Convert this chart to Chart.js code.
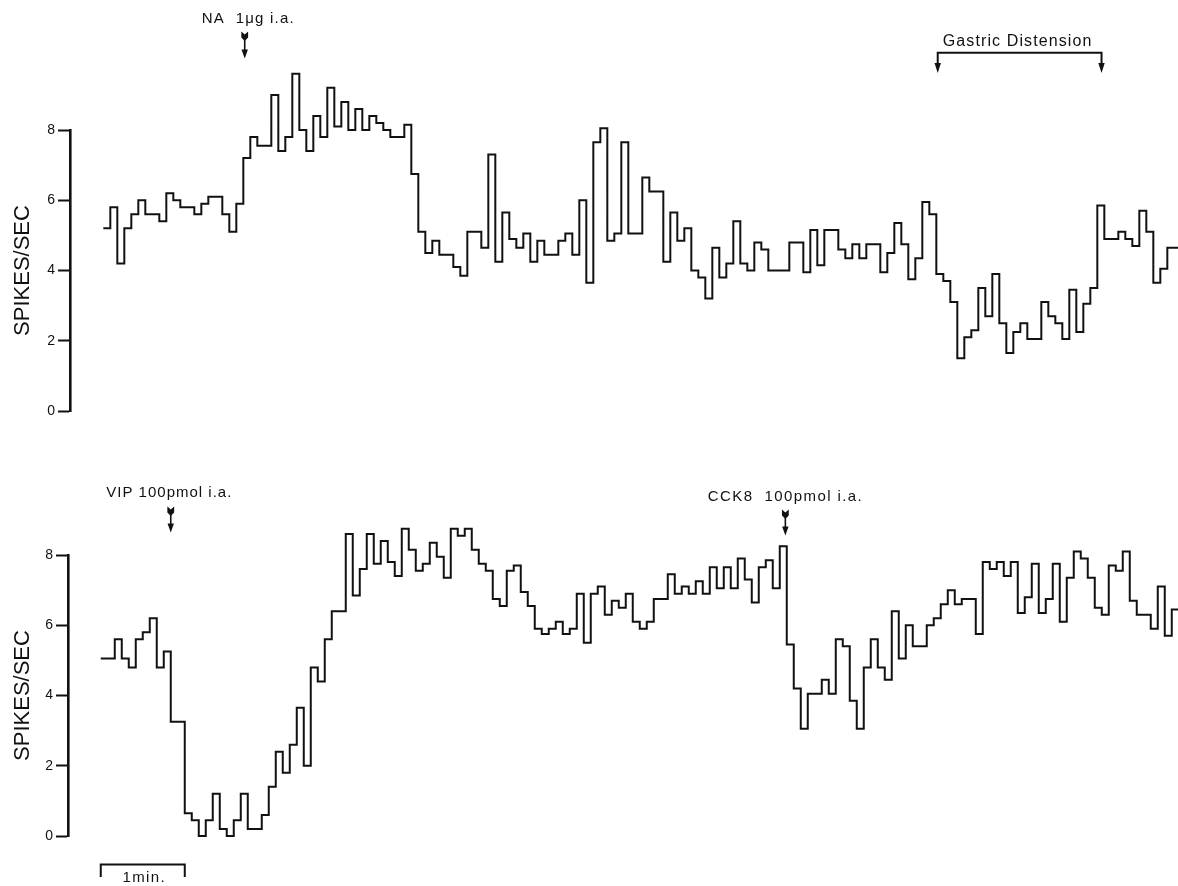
<!DOCTYPE html>
<html>
<head>
<meta charset="utf-8">
<title>Firing rate traces</title>
<script src="https://cdn.jsdelivr.net/npm/chart.js@4.4.1/dist/chart.umd.min.js"></script>
<style>
  html, body { margin: 0; padding: 0; background: #fff; }
  #wrap { position: relative; width: 1178px; height: 886px; overflow: hidden; }
  canvas { position: absolute; left: 0; }
  #topChart { top: 0; }
  #bottomChart { top: 450px; }
</style>
</head>
<body>
<div id="wrap">
  <canvas id="topChart" width="1178" height="450"></canvas>
  <canvas id="bottomChart" width="1178" height="436"></canvas>
</div>
<script>
// Firing rate (spikes/sec) counted in consecutive 5-second bins.
const BIN_SEC = 5;

// Upper trace: NA injection, then gastric distension.
const topRates = [
  5.2, 5.8, 4.2, 5.2, 5.6, 6.0, 5.6, 5.6, 5.4, 6.2,
  6.0, 5.8, 5.8, 5.6, 5.9, 6.1, 6.1, 5.6, 5.1, 5.9,
  7.2, 7.8, 7.55, 7.55, 9.0, 7.4, 7.8, 9.6, 8.0, 7.4,
  8.4, 7.8, 9.2, 8.1, 8.8, 8.0, 8.6, 8.0, 8.4, 8.2,
  8.0, 7.8, 7.8, 8.15, 6.75, 5.1, 4.5, 4.85, 4.45, 4.45,
  4.1, 3.85, 5.1, 5.1, 4.65, 7.3, 4.25, 5.65, 4.9, 4.65,
  5.05, 4.25, 4.85, 4.45, 4.45, 4.85, 5.05, 4.45, 6.0, 3.65,
  7.65, 8.05, 4.85, 5.05, 7.65, 5.05, 5.05, 6.65, 6.25, 6.25,
  4.25, 5.65, 4.85, 5.2, 4.0, 3.8, 3.2, 4.65, 3.8, 4.2,
  5.4, 4.2, 4.0, 4.8, 4.6, 4.0, 4.0, 4.0, 4.8, 4.8,
  3.95, 5.15, 4.15, 5.15, 5.15, 4.6, 4.35, 4.75, 4.35, 4.75,
  4.75, 3.95, 4.5, 5.35, 4.75, 3.75, 4.35, 5.95, 5.6, 3.9,
  3.7, 3.1, 1.5, 2.1, 2.3, 3.5, 2.7, 3.9, 2.5, 1.65,
  2.25, 2.5, 2.05, 2.05, 3.1, 2.7, 2.5, 2.05, 3.45, 2.25,
  3.05, 3.5, 5.85, 4.9, 4.9, 5.1, 4.9, 4.7, 5.7, 5.1,
  3.65, 4.05, 4.65, 4.65
];

// Lower trace: VIP injection, then CCK8 injection.
const bottomRates = [
  5.05, 5.05, 5.6, 5.05, 4.8, 5.6, 5.8, 6.2, 4.8, 5.25,
  3.25, 3.25, 0.65, 0.45, 0.0, 0.45, 1.2, 0.2, 0.0, 0.45,
  1.2, 0.2, 0.2, 0.6, 1.4, 2.4, 1.8, 2.6, 3.65, 2.0,
  4.8, 4.4, 5.6, 6.4, 6.4, 8.6, 6.85, 7.6, 8.6, 7.75,
  8.4, 7.8, 7.4, 8.75, 8.15, 7.55, 7.75, 8.35, 7.95, 7.35,
  8.75, 8.55, 8.75, 8.15, 7.75, 7.55, 6.75, 6.55, 7.55, 7.7,
  6.95, 6.55, 5.9, 5.75, 5.9, 6.1, 5.75, 5.9, 6.9, 5.5,
  6.9, 7.1, 6.3, 6.7, 6.5, 6.9, 6.1, 5.9, 6.1, 6.75,
  6.75, 7.45, 6.9, 7.1, 6.9, 7.25, 6.9, 7.65, 7.05, 7.65,
  7.05, 7.9, 7.3, 6.65, 7.65, 7.85, 7.05, 8.25, 5.45, 4.2,
  3.05, 4.05, 4.05, 4.45, 4.05, 5.6, 5.4, 3.85, 3.05, 4.8,
  5.6, 4.8, 4.45, 6.4, 5.05, 6.0, 5.4, 5.4, 6.0, 6.2,
  6.6, 7.0, 6.6, 6.75, 6.75, 5.75, 7.8, 7.6, 7.8, 7.4,
  7.8, 6.35, 6.8, 7.75, 6.35, 6.75, 7.75, 6.1, 7.35, 8.1,
  7.9, 7.35, 6.5, 6.3, 7.7, 7.55, 8.1, 6.7, 6.3, 6.3,
  5.9, 7.1, 5.7, 6.45
];

const yTickValues = [0, 2, 4, 6, 8];
const yTitle = 'SPIKES/SEC';

// Event times in seconds from the start of each trace.
const naText = 'NA  1μg i.a.';
const naTime = 101;
const vipText = 'VIP 100pmol i.a.';
const vipTime = 50;
const cckText = 'CCK8  100pmol i.a.';
const cckTime = 489;
const distensionText = 'Gastric Distension';
const distensionTimes = [596, 713];
const scaleBarText = '1min.';
const scaleBarSeconds = [0, 60];

const FONT = '"Liberation Sans", Arial, Helvetica, sans-serif';
const INK = '#111';

// One point per bin start, plus a closing point at the end of the last bin.
function stepPoints(values) {
  const pts = values.map((v, i) => ({ x: i * BIN_SEC, y: v }));
  pts.push({ x: values.length * BIN_SEC, y: values[values.length - 1] });
  return pts;
}

// Injection marker: fletched tail on top, filled head at the bottom.
function featherArrow(ctx, x, yTop, yTip) {
  ctx.fillStyle = INK;
  ctx.strokeStyle = INK;
  ctx.beginPath();
  ctx.moveTo(x - 3.4, yTop);
  ctx.lineTo(x, yTop + 3);
  ctx.lineTo(x + 3.4, yTop);
  ctx.lineTo(x + 3.4, yTop + 6);
  ctx.lineTo(x, yTop + 9.5);
  ctx.lineTo(x - 3.4, yTop + 6);
  ctx.closePath();
  ctx.fill();
  ctx.lineWidth = 1.6;
  ctx.beginPath();
  ctx.moveTo(x, yTop + 8);
  ctx.lineTo(x, yTip - 6);
  ctx.stroke();
  ctx.beginPath();
  ctx.moveTo(x - 3.2, yTip - 9);
  ctx.lineTo(x + 3.2, yTip - 9);
  ctx.lineTo(x, yTip);
  ctx.closePath();
  ctx.fill();
}

function plainArrowHead(ctx, x, yTip) {
  ctx.beginPath();
  ctx.moveTo(x - 3.2, yTip - 10);
  ctx.lineTo(x + 3.2, yTip - 10);
  ctx.lineTo(x, yTip);
  ctx.closePath();
  ctx.fill();
}

function label(ctx, text, x, y, size, spacing, align) {
  ctx.font = size + 'px ' + FONT;
  ctx.letterSpacing = spacing + 'px';
  ctx.fillStyle = INK;
  ctx.textAlign = align || 'left';
  ctx.textBaseline = 'middle';
  ctx.fillText(text, x, y);
}

function annotations(draw) {
  return {
    id: 'traceAnnotations',
    afterDraw(chart) {
      const ctx = chart.ctx;
      const xs = chart.scales.x;
      ctx.save();
      draw(ctx, (t) => xs.getPixelForValue(t));
      ctx.restore();
    }
  };
}

function makeTrace(canvas, values, cfg) {
  return new Chart(canvas, {
    type: 'line',
    data: {
      datasets: [{
        data: stepPoints(values),
        // hold each bin's value until the next bin starts
        stepped: 'before',
        borderColor: INK,
        borderWidth: 2,
        borderJoinStyle: 'miter',
        borderCapStyle: 'butt',
        pointRadius: 0,
        fill: false,
        tension: 0,
        clip: false
      }]
    },
    options: {
      responsive: false,
      animation: false,
      devicePixelRatio: 1,
      events: [],
      layout: { padding: { top: cfg.padTop, bottom: cfg.padBottom, left: 0, right: 0 } },
      plugins: { legend: { display: false }, tooltip: { enabled: false } },
      scales: {
        x: { type: 'linear', display: false, min: cfg.xMin, max: cfg.xMax },
        y: {
          type: 'linear',
          min: 0,
          max: 8,
          afterFit: (s) => { s.width = cfg.axisWidth; },
          afterBuildTicks: (s) => { s.ticks = yTickValues.map((v) => ({ value: v })); },
          ticks: { color: INK, font: { family: FONT, size: 14 }, padding: 3 },
          grid: {
            display: true, drawOnChartArea: false, drawTicks: true,
            tickLength: 12, tickWidth: 2, tickColor: INK, color: INK
          },
          border: { display: true, color: INK, width: 2.6 },
          title: {
            display: true, text: yTitle, color: INK,
            font: { family: FONT, size: 22 },
            padding: { top: 10, bottom: 0 }
          }
        }
      }
    },
    plugins: [annotations(cfg.draw)]
  });
}

// Upper panel
makeTrace(document.getElementById('topChart'), topRates, {
  padTop: 130, padBottom: 39, axisWidth: 70,
  xMin: -23.8, xMax: -23.8 + 1108 / 1.4,
  draw(ctx, px) {
    const xa = px(naTime);
    label(ctx, naText, xa - 43, 18.5, 15, 1.2);
    featherArrow(ctx, xa, 31.5, 58.5);

    const x1 = px(distensionTimes[0]);
    const x2 = px(distensionTimes[1]);
    label(ctx, distensionText, (x1 + x2) / 2 - 2, 42, 16, 1.1, 'center');
    ctx.strokeStyle = INK;
    ctx.fillStyle = INK;
    ctx.lineWidth = 2;
    ctx.beginPath();
    ctx.moveTo(x1, 66);
    ctx.lineTo(x1, 52.8);
    ctx.lineTo(x2, 52.8);
    ctx.lineTo(x2, 66);
    ctx.stroke();
    plainArrowHead(ctx, x1, 73);
    plainArrowHead(ctx, x2, 73);
  }
});

// Lower panel
makeTrace(document.getElementById('bottomChart'), bottomRates, {
  padTop: 105, padBottom: 50, axisWidth: 68,
  xMin: -23.4, xMax: -23.4 + 1110 / 1.4,
  draw(ctx, px) {
    const xv = px(vipTime);
    label(ctx, vipText, xv - 64.5, 43, 15, 1.0);
    featherArrow(ctx, xv, 56.5, 82.5);

    const xc = px(cckTime);
    label(ctx, cckText, xc - 77.5, 47, 15, 1.4);
    featherArrow(ctx, xc, 59.5, 85.5);

    // time scale bar
    const s0 = px(scaleBarSeconds[0]);
    const s1 = px(scaleBarSeconds[1]);
    ctx.strokeStyle = INK;
    ctx.lineWidth = 2;
    ctx.beginPath();
    ctx.moveTo(s0, 427);
    ctx.lineTo(s0, 414.5);
    ctx.lineTo(s1, 414.5);
    ctx.lineTo(s1, 427);
    ctx.stroke();
    label(ctx, scaleBarText, (s0 + s1) / 2 + 1.5, 428, 15, 1.4, 'center');
  }
});
</script>
</body>
</html>
